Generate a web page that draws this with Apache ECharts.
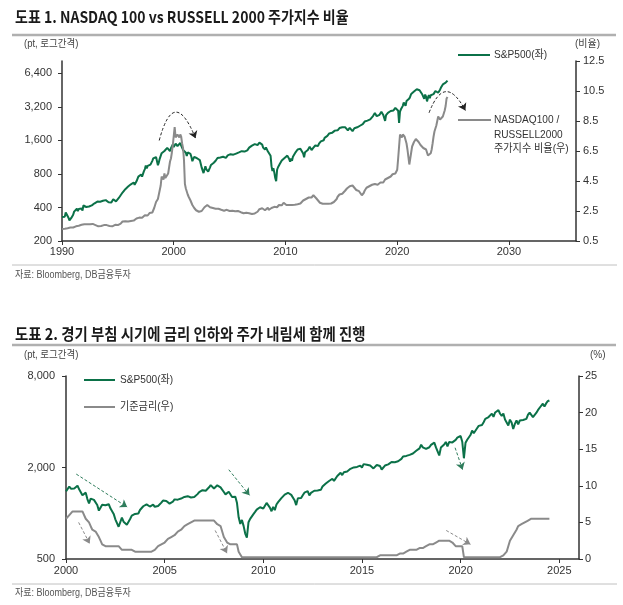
<!DOCTYPE html>
<html><head><meta charset="utf-8">
<script src="https://cdn.jsdelivr.net/npm/echarts@6/dist/echarts.min.js"></script>
<style>html,body{margin:0;padding:0;background:#fff}#c{width:623px;height:605px}</style>
</head><body><div id="c"></div>
<script>
// ---------- DATA ----------
// S&P500 monthly, starting Jan 1990
const spxStart = 1990;
const spx = [
329,331,339,331,361,358,356,323,306,300,322,330,
344,367,375,375,390,371,388,395,388,392,375,417,
409,413,404,415,415,408,424,414,418,419,431,436,
439,443,452,440,450,451,448,464,459,468,462,466,
482,467,446,451,457,444,458,475,463,472,454,459,
470,487,501,515,533,545,562,562,584,582,605,616,
636,640,646,654,669,671,640,652,687,705,757,741,
786,791,757,801,848,885,954,899,947,915,955,970,
980,1049,1102,1112,1091,1134,1121,957,1017,1099,1164,1229,
1280,1238,1286,1335,1302,1373,1329,1320,1283,1363,1389,1469,
1394,1366,1499,1452,1421,1455,1431,1518,1437,1429,1315,1320,
1366,1240,1160,1249,1256,1224,1211,1134,1041,1060,1139,1148,
1130,1107,1147,1077,1067,990,912,916,815,800,936,880,
856,841,848,917,964,975,990,1008,996,1051,1058,1112,
1131,1145,1126,1107,1121,1141,1102,1104,1115,1130,1174,1212,
1181,1204,1181,1157,1192,1191,1234,1220,1229,1207,1249,1248,
1280,1281,1295,1311,1270,1270,1277,1304,1336,1378,1401,1418,
1438,1407,1421,1482,1531,1503,1455,1474,1527,1549,1481,1468,
1379,1331,1323,1386,1400,1280,1267,1283,1166,940,850,903,
826,735,690,873,919,919,987,1021,1057,1036,1096,1115,
1074,1104,1169,1187,1089,1031,1102,1049,1141,1183,1181,1258,
1286,1327,1326,1364,1345,1321,1292,1219,1131,1253,1247,1258,
1312,1366,1408,1398,1310,1362,1379,1407,1441,1412,1416,1426,
1498,1515,1569,1598,1631,1606,1686,1633,1682,1757,1806,1848,
1783,1859,1872,1884,1924,1960,1931,2003,1972,2018,2068,2059,
1995,2105,2068,2086,2107,2063,2104,1972,1920,2079,2080,2044,
1940,1932,2060,2065,2097,2099,2174,2171,2168,2126,2199,2239,
2279,2364,2363,2384,2412,2423,2470,2472,2519,2575,2648,2674,
2824,2714,2641,2648,2705,2718,2816,2902,2914,2712,2760,2400,
2704,2784,2834,2946,2752,2942,2980,2926,2977,3038,3141,3231,
3226,2954,2300,2912,3044,3100,3271,3500,3363,3270,3622,3756,
3714,3811,3973,4181,4204,4298,4395,4523,4308,4605,4567,4766,
4516,4374,4530,4132,4132,3785,4130,3955,3586,3872,4080,3840,
4077,3970,4109,4169,4180,4450,4589,4508,4288,4194,4568,4770,
4846,5096,5254,5036,5278,5460,5522
];
// NASDAQ100 / RUSSELL2000 ratio monthly, starting Jan 1990
const ratioStart = 1990;
const ratio = [
1.30,1.28,1.30,1.32,1.36,1.38,1.35,1.34,1.36,1.40,1.42,1.44,
1.40,1.42,1.45,1.48,1.50,1.48,1.52,1.56,1.55,1.58,1.55,1.62,
1.62,1.66,1.64,1.62,1.60,1.58,1.62,1.60,1.62,1.64,1.62,1.60,
1.56,1.52,1.52,1.48,1.54,1.52,1.50,1.52,1.54,1.56,1.54,1.56,
1.56,1.54,1.52,1.50,1.48,1.46,1.48,1.52,1.54,1.58,1.56,1.58,
1.56,1.58,1.62,1.66,1.70,1.80,1.84,1.80,1.82,1.86,1.84,1.80,
1.82,1.86,1.84,1.82,1.80,1.86,1.90,1.92,2.00,2.02,2.10,2.06,
2.12,2.08,2.05,2.15,2.18,2.22,2.35,2.25,2.20,2.28,2.36,2.40,
2.38,2.40,2.45,2.70,2.90,3.10,3.20,3.30,3.60,3.90,4.20,4.80,
4.90,4.60,5.00,4.70,4.60,4.80,5.00,5.40,5.80,6.00,6.40,6.90,
6.90,8.10,7.40,7.30,7.60,7.50,7.40,7.60,7.45,7.00,6.70,5.90,
4.30,4.00,3.80,3.60,3.45,3.35,3.20,3.05,2.90,2.80,2.70,2.60,
2.55,2.45,2.50,2.45,2.40,2.45,2.50,2.55,2.60,2.75,2.85,2.80,
2.90,2.85,2.80,2.75,2.70,2.65,2.70,2.65,2.60,2.65,2.70,2.68,
2.65,2.60,2.62,2.58,2.60,2.55,2.52,2.58,2.56,2.58,2.55,2.52,
2.50,2.48,2.50,2.52,2.48,2.45,2.48,2.50,2.46,2.50,2.48,2.45,
2.42,2.40,2.38,2.35,2.40,2.36,2.38,2.40,2.38,2.35,2.36,2.34,
2.30,2.32,2.28,2.34,2.36,2.35,2.45,2.50,2.62,2.70,2.72,2.68,
2.62,2.60,2.55,2.62,2.68,2.72,2.58,2.52,2.60,2.70,2.80,2.82,
2.78,2.85,2.80,2.75,2.85,2.90,2.92,2.85,2.88,3.00,3.05,3.02,
2.95,2.90,2.88,2.82,2.90,2.92,2.88,2.90,2.92,2.88,2.92,2.90,
2.92,2.95,2.90,2.95,3.00,3.05,3.10,3.20,3.30,3.20,3.30,3.35,
3.35,3.40,3.45,3.50,3.40,3.45,3.55,3.50,3.45,3.35,3.30,3.20,
3.10,3.05,3.00,3.02,2.98,3.00,2.95,2.98,2.92,2.95,2.98,3.00,
3.05,3.00,2.98,3.05,3.10,3.08,3.20,3.30,3.45,3.50,3.60,3.70,
3.60,3.65,3.70,3.75,3.85,3.90,4.00,3.95,4.05,4.15,4.10,4.15,
4.20,4.15,4.05,3.95,3.90,3.85,3.80,3.82,3.78,3.75,3.55,3.60,
3.70,3.85,3.95,4.05,4.10,4.08,4.15,4.25,4.15,4.25,4.20,4.22,
4.30,4.40,4.30,4.25,4.30,4.35,4.40,4.45,4.50,4.40,4.35,4.60,
4.65,4.60,4.70,4.80,4.75,4.80,4.85,4.95,4.90,4.95,5.00,5.10,
5.25,6.00,6.80,7.60,7.50,7.40,7.60,7.50,7.45,7.45,7.00,6.60,
6.10,5.60,6.00,6.40,6.80,6.90,7.10,7.20,7.30,7.35,7.30,7.10,
7.00,6.90,6.80,6.80,6.70,6.60,6.65,6.60,6.50,6.20,6.10,6.20,
6.35,6.60,7.00,7.45,7.80,8.00,8.20,8.50,8.80,8.80,8.60,8.50,
8.70,8.80,8.90,9.20,9.50,10.00,10.10
];
// Fed policy rate (%) monthly, starting Jan 2000
const fedStart = 2000;
const fed = [
5.5,5.75,6.0,6.0,6.5,6.5,6.5,6.5,6.5,6.5,6.5,6.5,
5.5,5.5,5.0,4.5,4.0,3.75,3.75,3.5,3.0,2.5,2.0,1.75,
1.75,1.75,1.75,1.75,1.75,1.75,1.75,1.75,1.75,1.75,1.25,1.25,
1.25,1.25,1.25,1.25,1.25,1.0,1.0,1.0,1.0,1.0,1.0,1.0,
1.0,1.0,1.0,1.0,1.0,1.25,1.25,1.5,1.75,1.75,2.0,2.25,
2.25,2.5,2.75,2.75,3.0,3.25,3.25,3.5,3.75,3.75,4.0,4.25,
4.5,4.5,4.75,4.75,5.0,5.25,5.25,5.25,5.25,5.25,5.25,5.25,
5.25,5.25,5.25,5.25,5.25,5.25,5.25,5.25,4.75,4.5,4.5,4.25,
3.0,3.0,2.25,2.0,2.0,2.0,2.0,2.0,2.0,1.0,1.0,0.25,
0.25,0.25,0.25,0.25,0.25,0.25,0.25,0.25,0.25,0.25,0.25,0.25,
0.25,0.25,0.25,0.25,0.25,0.25,0.25,0.25,0.25,0.25,0.25,0.25,
0.25,0.25,0.25,0.25,0.25,0.25,0.25,0.25,0.25,0.25,0.25,0.25,
0.25,0.25,0.25,0.25,0.25,0.25,0.25,0.25,0.25,0.25,0.25,0.25,
0.25,0.25,0.25,0.25,0.25,0.25,0.25,0.25,0.25,0.25,0.25,0.25,
0.25,0.25,0.25,0.25,0.25,0.25,0.25,0.25,0.25,0.25,0.25,0.25,
0.25,0.25,0.25,0.25,0.25,0.25,0.25,0.25,0.25,0.25,0.25,0.5,
0.5,0.5,0.5,0.5,0.5,0.5,0.5,0.5,0.5,0.5,0.5,0.75,
0.75,0.75,1.0,1.0,1.0,1.25,1.25,1.25,1.25,1.25,1.25,1.5,
1.5,1.5,1.75,1.75,1.75,2.0,2.0,2.0,2.25,2.25,2.25,2.5,
2.5,2.5,2.5,2.5,2.5,2.5,2.25,2.25,2.0,1.75,1.75,1.75,
1.75,1.75,0.25,0.25,0.25,0.25,0.25,0.25,0.25,0.25,0.25,0.25,
0.25,0.25,0.25,0.25,0.25,0.25,0.25,0.25,0.25,0.25,0.25,0.25,
0.25,0.25,0.5,0.5,1.0,1.75,2.5,2.5,3.25,3.25,4.0,4.5,
4.5,4.75,5.0,5.0,5.25,5.25,5.5,5.5,5.5,5.5,5.5,5.5,
5.5,5.5,5.5,5.5,5.5,5.5,5.5
];
// Axis ticks
const c1XTicks = [1990, 2000, 2010, 2020, 2030];
const c1LeftTicks = [200, 400, 800, 1600, 3200, 6400];
const c1RightTicks = [0.5, 2.5, 4.5, 6.5, 8.5, 10.5, 12.5];
const c2XTicks = [2000, 2005, 2010, 2015, 2020, 2025];
const c2LeftTicks = [500, 2000, 8000];
const c2RightTicks = [0, 5, 10, 15, 20, 25];
// Annotation arrows in data coordinates [year, right-axis value]
const c1Arcs = [[[1998.7, 7.2], [2001.95, 7.35]], [[2022.85, 9.05], [2026.1, 9.2]]];
const c2GreenArrows = [[[2000.52, 11.6], [2003.1, 7.1]], [[2008.25, 12.2], [2009.3, 8.7]], [[2019.72, 15.2], [2020.1, 12.2]]];
const c2GrayArrows = [[[2000.64, 5.0], [2001.2, 2.1]], [[2007.56, 3.9], [2008.16, 0.8]], [[2019.27, 3.9], [2020.5, 2.0]]];

// ---------- BUILD ----------
const GREEN = '#0b7148', GRAY = '#8a8a8a', AX = '#333';
const FONT = "'Liberation Sans','Noto Sans CJK KR',sans-serif";
const KFONT = "'Noto Sans CJK KR','Liberation Sans',sans-serif";
const c1Base = 200, c1Max = 5.37, c2Base = 500, c2Max = 4;
const monthX = (start, i) => start + i / 12;
const spxC1 = spx.map((v, i) => [monthX(spxStart, i), Math.log2(v / c1Base)]);
const spxC2 = spx.map((v, i) => [monthX(spxStart, i), v]).filter(p => p[0] >= 2000 - 1e-9).map(p => [p[0], Math.log2(p[1] / c2Base)]);
const ratioData = ratio.map((v, i) => [monthX(ratioStart, i), v]);
const fedData = fed.map((v, i) => [monthX(fedStart, i), v]);

const lab = {color: '#333', fontSize: 11, fontFamily: FONT};
function axisCommon() {
  return {
    axisLine: {show: true, lineStyle: {color: AX, width: 1.5}},
    splitLine: {show: false}
  };
}
const tick = vals => ({show: true, length: 4, inside: false, lineStyle: {color: AX, width: 1}, customValues: vals});
const xAxes = [
  Object.assign(axisCommon(), {gridIndex: 0, type: 'value', min: 1990, max: 2036, axisTick: tick(c1XTicks),
    axisLabel: Object.assign({}, lab, {margin: 5, customValues: c1XTicks, formatter: v => String(v)})}),
  Object.assign(axisCommon(), {gridIndex: 1, type: 'value', min: 2000, max: 2026, axisTick: tick(c2XTicks),
    axisLabel: Object.assign({}, lab, {margin: 6, customValues: c2XTicks, formatter: v => String(v)})})
];
const c1LeftVals = c1LeftTicks.map(v => Math.log2(v / c1Base));
const c2LeftVals = c2LeftTicks.map(v => Math.log2(v / c2Base));
const yAxes = [
  Object.assign(axisCommon(), {gridIndex: 0, type: 'value', position: 'left', min: 0, max: c1Max, axisTick: tick(c1LeftVals),
    axisLabel: Object.assign({}, lab, {margin: 10, customValues: c1LeftVals,
      formatter: v => Math.round(c1Base * Math.pow(2, v)).toLocaleString('en-US')})}),
  Object.assign(axisCommon(), {gridIndex: 0, type: 'value', position: 'right', min: 0.5, max: 12.5, axisTick: tick(c1RightTicks),
    axisLabel: Object.assign({}, lab, {margin: 7, customValues: c1RightTicks, formatter: v => v.toFixed(1)})}),
  Object.assign(axisCommon(), {gridIndex: 1, type: 'value', position: 'left', min: 0, max: c2Max, axisTick: tick(c2LeftVals),
    axisLabel: Object.assign({}, lab, {margin: 11, customValues: c2LeftVals,
      formatter: v => Math.round(c2Base * Math.pow(2, v)).toLocaleString('en-US')})}),
  Object.assign(axisCommon(), {gridIndex: 1, type: 'value', position: 'right', min: 0, max: 25, axisTick: tick(c2RightTicks),
    axisLabel: Object.assign({}, lab, {margin: 6, customValues: c2RightTicks, formatter: v => String(v)})})
];

function lineSeries(name, data, xi, yi, color) {
  return {name, type: 'line', data, xAxisIndex: xi, yAxisIndex: yi, showSymbol: false, symbol: 'none',
    lineStyle: {color, width: 2}, itemStyle: {color}, animation: false, silent: true};
}
function arrowSeries(pairs, xi, yi, color, curveness) {
  return {type: 'lines', coordinateSystem: 'cartesian2d', xAxisIndex: xi, yAxisIndex: yi, silent: true, animation: false,
    symbol: ['none', 'arrow'], symbolSize: 7,
    lineStyle: {color, width: 1, type: [3, 2], curveness, opacity: 1},
    data: pairs.map(p => ({coords: p}))};
}

const T = (x, y, s, font, fill, sx) => ({type: 'text', x, y, scaleX: sx || 1, silent: true,
  style: {text: s, fill: fill || '#333', font, verticalAlign: 'middle'}});
const hline = (x1, x2, y, color, w) => ({type: 'line', silent: true, shape: {x1, y1: y, x2, y2: y}, style: {stroke: color, lineWidth: w}});

const graphics = [
  T(15, 17, '도표 1. NASDAQ 100 vs RUSSELL 2000 주가지수 비율', 'bold 16px ' + KFONT, '#1a1a1a', 0.875),
  hline(12, 616, 35, '#b0b0b0', 2.5),
  T(24, 44, '(pt, 로그간격)', '10px ' + FONT, '#444', 0.95),
  T(575, 44, '(비율)', '10px ' + FONT, '#444'),
  hline(458, 490, 55, GREEN, 2),
  T(494, 55, 'S&P500(좌)', '11px ' + FONT, '#333', 0.92),
  hline(458, 491, 120, GRAY, 2),
  T(494, 120, 'NASDAQ100 /', '11px ' + FONT, '#333', 0.92),
  T(494, 134.5, 'RUSSELL2000', '11px ' + FONT, '#333', 0.92),
  T(494, 149, '주가지수 비율(우)', '11px ' + FONT, '#333', 0.92),
  hline(12, 617, 265, '#c0c0c0', 1),
  T(15, 275, '자료: Bloomberg, DB금융투자', '10px ' + FONT, '#555', 0.9),

  T(15, 334, '도표 2. 경기 부침 시기에 금리 인하와 주가 내림세 함께 진행', 'bold 16px ' + KFONT, '#1a1a1a', 0.9),
  hline(12, 616, 345, '#b0b0b0', 2.5),
  T(24, 355, '(pt, 로그간격)', '10px ' + FONT, '#444', 0.95),
  T(590, 355, '(%)', '10px ' + FONT, '#444'),
  hline(84, 115, 380, GREEN, 2),
  T(120, 380, 'S&P500(좌)', '11px ' + FONT, '#333', 0.92),
  hline(84, 115, 407, GRAY, 2),
  T(120, 407, '기준금리(우)', '11px ' + FONT, '#333', 0.92),
  hline(12, 617, 584, '#c0c0c0', 1),
  T(15, 593, '자료: Bloomberg, DB금융투자', '10px ' + FONT, '#555', 0.9)
];

const option = {
  animation: false,
  backgroundColor: '#fff',
  grid: [
    {left: 62, top: 61, right: 47, height: 180, containLabel: false},
    {left: 66, top: 376, right: 44, height: 183, containLabel: false}
  ],
  xAxis: xAxes,
  yAxis: yAxes,
  series: [
    lineSeries('S&P500(좌)', spxC1, 0, 0, GREEN),
    lineSeries('NASDAQ100 / RUSSELL2000 주가지수 비율(우)', ratioData, 0, 1, GRAY),
    arrowSeries(c1Arcs.slice(0, 1), 0, 1, '#222', 1.5),
    arrowSeries(c1Arcs.slice(1), 0, 1, '#222', 1.1),
    lineSeries('S&P500(좌)', spxC2, 1, 2, GREEN),
    lineSeries('기준금리(우)', fedData, 1, 3, GRAY),
    arrowSeries(c2GreenArrows, 1, 3, '#2f7d5c', 0),
    arrowSeries(c2GrayArrows, 1, 3, '#8a8a8a', 0)
  ],
  graphic: graphics
};
const chart = echarts.init(document.getElementById('c'), null, {renderer: 'canvas'});
chart.setOption(option);
</script></body></html>
